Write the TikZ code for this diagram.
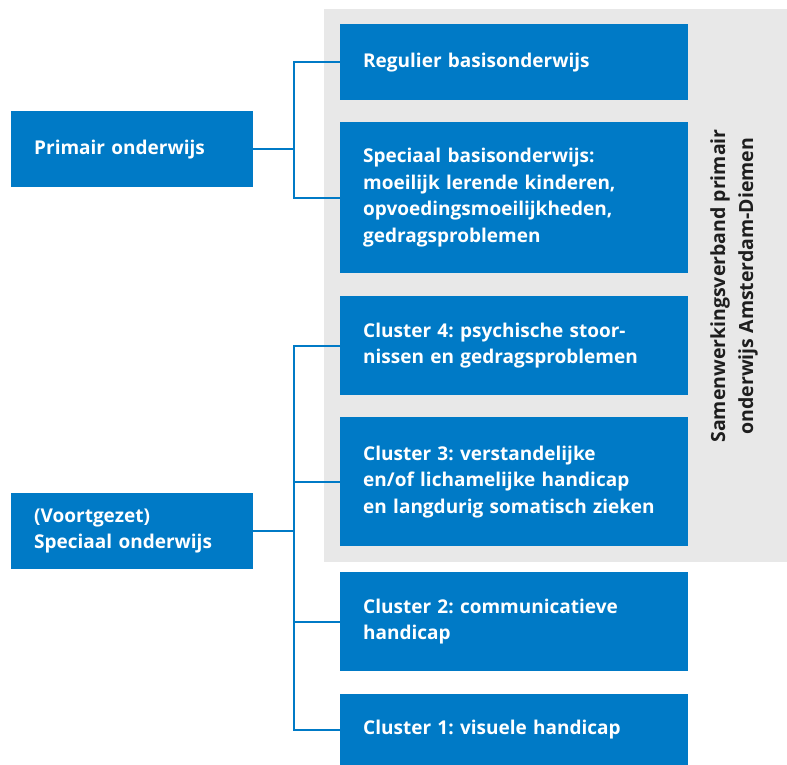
\documentclass[tikz,border=0pt]{standalone}
\usepackage{fontspec}
\setmainfont{Open Sans}
\frenchspacing
\definecolor{boxblue}{HTML}{007AC6}
\definecolor{bggray}{HTML}{E8E8E8}
\definecolor{darktext}{HTML}{1E1E1E}
\tikzset{
  bluebox/.style={fill=boxblue, text=white, font=\fontsize{19}{26.5}\selectfont\bfseries,
    anchor=north west, inner xsep=23pt, inner ysep=0pt, align=left},
  rightbox/.style={bluebox, minimum width=348pt, text width=302pt},
  leftbox/.style={bluebox, minimum width=242pt, text width=196pt, minimum height=76pt},
  conn/.style={draw=boxblue, line width=2pt},
}
\begin{document}
\begin{tikzpicture}[x=1pt,y=-1pt]
\useasboundingbox (0,0) rectangle (787,765);
\fill[bggray] (324,9) rectangle (787,562);
\node[rightbox, minimum height=76pt] (b1) at (340,24) {Regulier basisonderwijs};
\node[rightbox, minimum height=151pt] (b2) at (340,122) {Speciaal basisonderwijs:\\moeilijk lerende kinderen,\\opvoedingsmoeilijkheden,\\gedragsproblemen};
\node[rightbox, minimum height=99pt] (b3) at (340,296) {Cluster 4: psychische stoor-\\nissen en gedragsproblemen};
\node[rightbox, minimum height=129pt] (b4) at (340,417) {Cluster 3: verstandelijke\\en/of lichamelijke handicap\\en langdurig somatisch zieken};
\node[rightbox, minimum height=99pt] (b5) at (340,572) {Cluster 2: communicatieve\\handicap};
\node[rightbox, minimum height=71pt] (b6) at (340,694) {Cluster 1: visuele handicap};
\node[leftbox] (p) at (11,111) {Primair onderwijs};
\node[leftbox] (s) at (11,493) {(Voortgezet)\\Speciaal onderwijs};
\node[rotate=90, text=darktext, font=\fontsize{19.5}{28}\selectfont\bfseries, align=center] (sv) at (734,286) {Samenwerkingsverband primair\\onderwijs Amsterdam-Diemen};
\coordinate (j) at (294,0);
\draw[conn] (p.east) -- (p.east -| j);
\draw[conn] (b1.west) -- (b1.west -| j) -- (b2.west -| j) -- (b2.west);
\draw[conn] (s.east) -- (s.east -| j);
\draw[conn] (b3.west) -- (b3.west -| j) -- (b6.west -| j) -- (b6.west);
\draw[conn] (b4.west) -- (b4.west -| j);
\draw[conn] (b5.west) -- (b5.west -| j);
\end{tikzpicture}
\end{document}
